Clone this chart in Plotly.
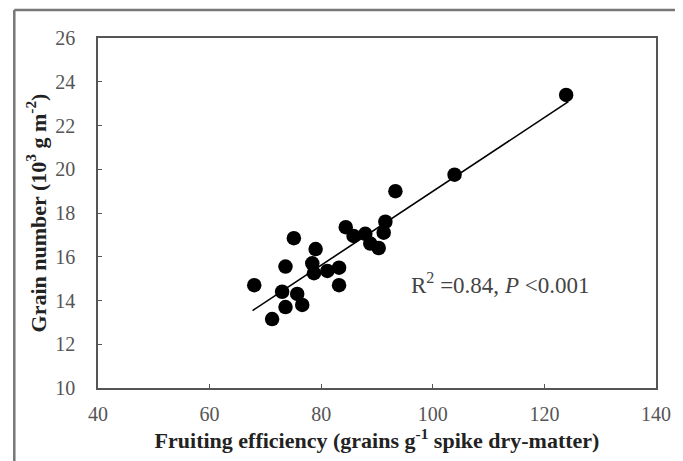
import plotly.graph_objects as go

# fruiting efficiency (grains g-1 spike dry-matter) vs grain number (10^3 g m-2)
fruiting_eff = [68.0, 71.2, 73.6, 73.0, 73.6, 75.1, 75.7, 76.6, 79.0, 78.4, 78.7, 81.1,
                83.2, 83.2, 84.4, 85.8, 87.9, 88.8, 90.3, 91.2, 91.5, 93.3, 103.9, 123.9]
grain_number = [14.7, 13.15, 15.55, 14.4, 13.7, 16.85, 14.3, 13.8, 16.35, 15.7, 15.25, 15.35,
                15.5, 14.7, 17.35, 16.95, 17.05, 16.6, 16.4, 17.1, 17.6, 19.0, 19.75, 23.4]

# regression line as drawn
fit_x = [67.7, 124.3]
fit_y = [13.54, 23.09]

x_ticks = [40, 60, 80, 100, 120, 140]
y_ticks = [10, 12, 14, 16, 18, 20, 22, 24, 26]

serif = "Liberation Serif, Times New Roman, serif"

fig = go.Figure()
fig.add_trace(go.Scatter(
    x=fit_x, y=fit_y, mode="lines",
    line={"color": "black", "width": 1.6},
    hoverinfo="skip",
))
fig.add_trace(go.Scatter(
    x=fruiting_eff, y=grain_number, mode="markers",
    marker={"color": "black", "size": 14.5, "line": {"width": 0}},
))

fig.add_annotation(
    x=112.1, y=14.76, xref="x", yref="y", showarrow=False,
    text="R<sup>2</sup> =0.84, <i>P</i> &lt;0.001",
    font={"family": serif, "size": 23, "color": "#444"},
)

# left and top edge of the outer frame of the original figure
frame = {"color": "#777", "width": 2.5}
fig.add_shape(type="line", xref="paper", yref="paper", layer="above",
              x0=-0.15, x1=-0.15, y0=-0.25, y1=1.08, line=frame)
fig.add_shape(type="line", xref="paper", yref="paper", layer="above",
              x0=-0.15, x1=1.05, y0=1.08, y1=1.08, line=frame)

axis_common = dict(
    showline=True, linecolor="#555", linewidth=1.5, mirror=True,
    ticks="inside", ticklen=4, tickcolor="#555", tickwidth=1,
    showgrid=False, zeroline=False,
    tickfont={"family": serif, "size": 20, "color": "#555"},
)

# page body keeps an 8px margin, so the figure is 8px smaller than the window
fig.update_layout(
    width=675, height=453,
    margin={"l": 90, "r": 17, "t": 30, "b": 72},
    paper_bgcolor="white", plot_bgcolor="white",
    showlegend=False,
    xaxis=dict(
        axis_common, range=[40, 140], tickvals=x_ticks, ticklabelstandoff=7,
        title={"text": "Fruiting efficiency (grains g<sup>-1</sup> spike dry-matter)",
               "font": {"family": serif, "size": 22, "color": "#222", "weight": "bold"},
               "standoff": 9},
    ),
    yaxis=dict(
        axis_common, range=[10, 26], tickvals=y_ticks, ticklabelstandoff=17,
        title={"text": "Grain number (10<sup>3</sup> g m<sup>-2</sup>)",
               "font": {"family": serif, "size": 22, "color": "#222", "weight": "bold"},
               "standoff": 3},
    ),
)

fig.write_html("out.html")
